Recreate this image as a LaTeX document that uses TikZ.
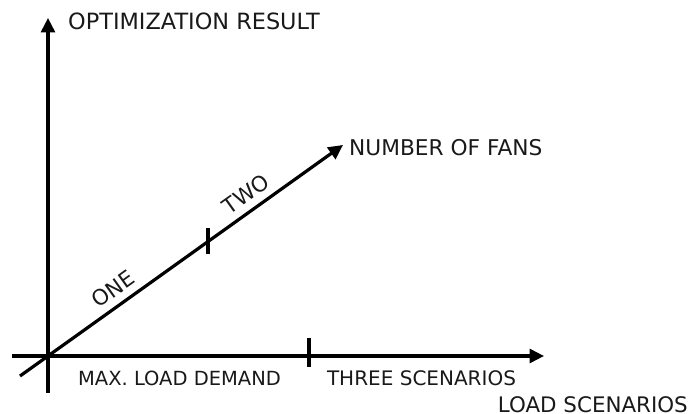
\documentclass[tikz,border=0pt]{standalone}
\usepackage{fontspec}
\setmainfont{DejaVu Sans}
\usetikzlibrary{arrows.meta}
\newcommand{\lblsize}[1]{\fontsize{#1}{#1}\selectfont}
\begin{document}
\begin{tikzpicture}[x=1pt,y=-1pt,
  axis/.style={line width=3.2pt,-{Triangle[length=14.5pt,width=14pt]}},
  plain/.style={line width=3.2pt},
  tick/.style={line width=3.2pt},
  lbl/.style={font=\lblsize{21.5},inner sep=0pt,text=black!90}]
\useasboundingbox (0,0) rectangle (693,414);
% axis end points
\coordinate (O) at (48,356);
\coordinate (ytop) at (48,18);
\coordinate (ybot) at (48,393);
\coordinate (xleft) at (12,356);
\coordinate (xright) at (544,356);
\coordinate (dlow) at (20,376);
\coordinate (dtip) at (343,145);
% axes
\draw[plain] (ybot) -- (O);
\draw[axis] (O) -- (ytop);
\draw[plain] (xleft) -- (O);
\draw[axis] (O) -- (xright);
\draw[plain] (dlow) -- (O);
\draw[axis] (O) -- (dtip);
% ticks
\coordinate (tx1) at (309,338);
\coordinate (tx2) at (309,367);
\draw[tick] (tx1) -- (tx2);
\coordinate (td1) at (208,228);
\coordinate (td2) at (208,254);
\draw[tick] (td1) -- (td2);
% labels
\node[lbl,font=\lblsize{22.4},anchor=west] (ylab) at (68,21) {OPTIMIZATION RESULT};
\node[lbl,font=\lblsize{21.7},anchor=west] (dlab) at (349,148) {NUMBER OF FANS};
\node[lbl,font=\lblsize{21.4},anchor=east] (xlab) at (688,405) {LOAD SCENARIOS};
\node[lbl,font=\lblsize{19.5}] (maxld) at (179.5,378) {MAX. LOAD DEMAND};
\node[lbl,font=\lblsize{20}] (three) at (421.5,378) {THREE SCENARIOS};
\node[lbl,rotate=35.5] (one) at (113,289) {ONE};
\node[lbl,rotate=35.5] (two) at (246,194) {TWO};
\end{tikzpicture}
\end{document}
